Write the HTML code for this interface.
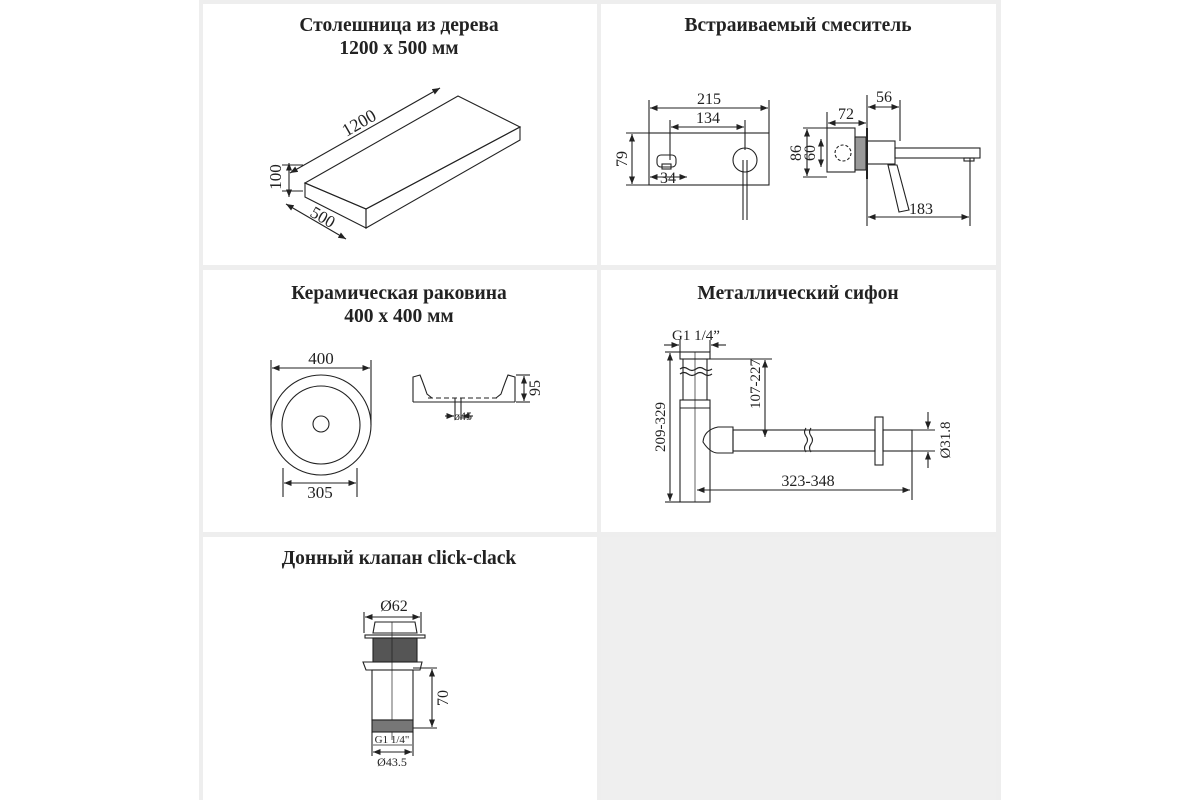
<!DOCTYPE html>
<html><head><meta charset="utf-8"><style>
html,body{margin:0;padding:0;background:#fff;}
svg{display:block;}
text{font-family:"Liberation Serif",serif;fill:#222;}
.t{font-weight:bold;font-size:19.5px;text-anchor:middle;}
.d{font-size:16px;text-anchor:middle;}
</style></head><body>
<svg width="1200" height="800" viewBox="0 0 1200 800" xmlns="http://www.w3.org/2000/svg">
<defs>
<marker id="a" viewBox="0 0 10 10" refX="10" refY="5" markerWidth="7" markerHeight="7" orient="auto-start-reverse"><path d="M0,1 L10,5 L0,9 z" fill="#222"/></marker>
</defs>
<rect x="199" y="0" width="802" height="800" fill="#eeeeee"/>
<rect x="203" y="4" width="394" height="261" fill="#fff"/>
<rect x="601" y="4" width="395" height="261" fill="#fff"/>
<rect x="203" y="270" width="394" height="262" fill="#fff"/>
<rect x="601" y="270" width="395" height="262" fill="#fff"/>
<rect x="203" y="537" width="394" height="263" fill="#fff"/>
<rect x="601" y="537" width="395" height="263" fill="#efefef"/>

<g stroke="#222" stroke-width="1.1" fill="none">
<!-- countertop -->
<polygon points="305,183 458,96 520,127 366,209"/>
<polygon points="305,183 366,209 366,228 305,197"/>
<polygon points="366,209 520,127 520,140 366,228"/>
<line x1="290" y1="173" x2="440" y2="88" marker-start="url(#a)" marker-end="url(#a)"/>
<line x1="289" y1="163" x2="289" y2="197" marker-start="url(#a)" marker-end="url(#a)"/>
<line x1="286" y1="204" x2="346" y2="239" marker-start="url(#a)" marker-end="url(#a)"/>
<line x1="282" y1="165" x2="303" y2="165"/>
<line x1="282" y1="191" x2="303" y2="191"/>

<!-- mixer front -->
<rect x="649" y="133" width="120" height="52"/>
<line x1="649" y1="100" x2="649" y2="133"/><line x1="769" y1="100" x2="769" y2="133"/>
<line x1="650" y1="108" x2="768" y2="108" marker-start="url(#a)" marker-end="url(#a)"/>
<line x1="670" y1="120" x2="670" y2="160"/><line x1="745" y1="120" x2="745" y2="150"/>
<line x1="671" y1="127" x2="744" y2="127" marker-start="url(#a)" marker-end="url(#a)"/>
<line x1="626" y1="133" x2="649" y2="133"/><line x1="626" y1="185" x2="649" y2="185"/>
<line x1="632" y1="134" x2="632" y2="184" marker-start="url(#a)" marker-end="url(#a)"/>
<circle cx="745" cy="160" r="12"/>
<line x1="743" y1="160" x2="743" y2="220"/><line x1="747" y1="160" x2="747" y2="220"/>
<rect x="657" y="155" width="19" height="12" rx="4"/>
<rect x="662" y="164" width="9" height="5"/>
<line x1="650" y1="177" x2="687" y2="177" marker-start="url(#a)" marker-end="url(#a)"/>
<!-- mixer side -->
<rect x="827" y="128" width="28" height="44"/>
<rect x="855" y="137" width="11" height="33" fill="#999"/>
<line x1="867" y1="128" x2="867" y2="179" stroke-width="2"/>
<circle cx="843" cy="153" r="8" stroke-dasharray="3,2"/>
<rect x="867" y="141" width="28" height="23"/>
<rect x="895" y="148" width="85" height="10"/>
<rect x="964" y="158" width="10" height="3"/>
<polygon points="888,165 897,165 909,210 899,212"/>
<line x1="827" y1="112" x2="827" y2="128"/><line x1="867" y1="95" x2="867" y2="226"/><line x1="900" y1="100" x2="900" y2="141"/><line x1="970" y1="158" x2="970" y2="226"/>
<line x1="828" y1="123" x2="866" y2="123" marker-start="url(#a)" marker-end="url(#a)"/>
<line x1="868" y1="107" x2="899" y2="107" marker-start="url(#a)" marker-end="url(#a)"/>
<line x1="868" y1="217" x2="969" y2="217" marker-start="url(#a)" marker-end="url(#a)"/>
<line x1="803" y1="128" x2="827" y2="128"/><line x1="803" y1="177" x2="827" y2="177"/>
<line x1="807" y1="129" x2="807" y2="176" marker-start="url(#a)" marker-end="url(#a)"/>
<line x1="821" y1="139" x2="821" y2="167" marker-start="url(#a)" marker-end="url(#a)"/>

<!-- sink top -->
<circle cx="321" cy="425" r="50"/>
<circle cx="321" cy="425" r="39"/>
<circle cx="321" cy="424" r="8"/>
<line x1="271" y1="360" x2="271" y2="425"/><line x1="371" y1="360" x2="371" y2="425"/>
<line x1="272" y1="368" x2="370" y2="368" marker-start="url(#a)" marker-end="url(#a)"/>
<line x1="283" y1="468" x2="283" y2="497"/><line x1="357" y1="468" x2="357" y2="497"/>
<line x1="284" y1="483" x2="356" y2="483" marker-start="url(#a)" marker-end="url(#a)"/>
<!-- sink side -->
<path d="M413,402 L413,377 L420,375 Q424,385 427,394 L432,398"/>
<path d="M515,402 L515,377 L508,375 Q504,385 501,394 L496,398"/>
<line x1="413" y1="402" x2="515" y2="402"/>
<line x1="428" y1="398" x2="500" y2="398" stroke-dasharray="5,3"/>
<line x1="455" y1="398" x2="455" y2="420"/><line x1="461" y1="398" x2="461" y2="420"/>
<line x1="445" y1="416" x2="454" y2="416" marker-end="url(#a)"/><line x1="473" y1="416" x2="462" y2="416" marker-end="url(#a)"/>
<line x1="516" y1="375" x2="530" y2="375"/><line x1="516" y1="402" x2="530" y2="402"/>
<line x1="524" y1="376" x2="524" y2="401" marker-start="url(#a)" marker-end="url(#a)"/>

<!-- siphon -->
<rect x="680" y="352" width="30" height="7"/>
<line x1="683" y1="359" x2="683" y2="400"/><line x1="707" y1="359" x2="707" y2="400"/>
<path d="M680,369 q4,-3 8,0 t8,0 t8,0 t8,0" />
<path d="M680,374 q4,-3 8,0 t8,0 t8,0 t8,0" />
<rect x="680" y="400" width="30" height="102"/>
<line x1="680" y1="408" x2="710" y2="408"/>
<line x1="695" y1="352" x2="695" y2="502" stroke-width="0.7"/>
<path d="M733,427 L718,427 Q704,430 703,442 Q710,453 718,453 L733,453 Z"/>
<rect x="733" y="430" width="142" height="21"/>
<rect x="883" y="430" width="29" height="21"/>
<rect x="875" y="417" width="8" height="48"/>
<path d="M806,428 q-3,4 0,8 t0,8 t0,8 M811,428 q-3,4 0,8 t0,8 t0,8" />
<line x1="665" y1="352" x2="680" y2="352"/><line x1="665" y1="502" x2="680" y2="502"/>
<line x1="670" y1="353" x2="670" y2="501" marker-start="url(#a)" marker-end="url(#a)"/>
<line x1="664" y1="345" x2="679" y2="345" marker-end="url(#a)"/><line x1="726" y1="345" x2="711" y2="345" marker-end="url(#a)"/>
<line x1="680" y1="340" x2="680" y2="352"/><line x1="710" y1="340" x2="710" y2="352"/>
<line x1="710" y1="359" x2="772" y2="359"/>
<line x1="765" y1="360" x2="765" y2="437" marker-start="url(#a)" marker-end="url(#a)"/>
<line x1="912" y1="430" x2="935" y2="430"/><line x1="912" y1="451" x2="935" y2="451"/>
<line x1="928" y1="412" x2="928" y2="429" marker-end="url(#a)"/><line x1="928" y1="468" x2="928" y2="452" marker-end="url(#a)"/>
<line x1="912" y1="451" x2="912" y2="500"/>
<line x1="697" y1="490" x2="910" y2="490" marker-start="url(#a)" marker-end="url(#a)"/>

<!-- click-clack -->
<line x1="364" y1="612" x2="364" y2="633"/><line x1="421" y1="612" x2="421" y2="633"/>
<line x1="365" y1="617" x2="420" y2="617" marker-start="url(#a)" marker-end="url(#a)"/>
<path d="M373,633 L375,622 L415,622 L417,633 Z"/>
<line x1="373" y1="633" x2="417" y2="633"/>
<rect x="365" y="635" width="60" height="3"/>
<rect x="373" y="638" width="44" height="24" fill="#555"/>
<path d="M363,662 L422,662 L420,670 L366,670 Z"/>
<rect x="372" y="670" width="41" height="50"/>
<line x1="392" y1="622" x2="392" y2="740" stroke-width="0.7"/>
<rect x="372" y="720" width="41" height="12" fill="#777"/>
<line x1="413" y1="668" x2="437" y2="668"/><line x1="413" y1="728" x2="437" y2="728"/>
<line x1="432" y1="669" x2="432" y2="727" marker-start="url(#a)" marker-end="url(#a)"/>
<line x1="372" y1="732" x2="372" y2="756"/><line x1="413" y1="732" x2="413" y2="756"/>
<line x1="373" y1="752" x2="412" y2="752" marker-start="url(#a)" marker-end="url(#a)"/>
<line x1="373" y1="745" x2="412" y2="745" stroke-width="0.7"/>
</g>

<text class="t" x="399" y="31">Столешница из дерева</text>
<text class="t" x="399" y="54">1200 x 500 мм</text>
<text class="t" x="798" y="31">Встраиваемый смеситель</text>
<text class="t" x="399" y="299">Керамическая раковина</text>
<text class="t" x="399" y="322">400 x 400 мм</text>
<text class="t" x="798" y="299">Металлический сифон</text>
<text class="t" x="399" y="564">Донный клапан click-clack</text>

<text class="d" style="font-size:18px" transform="translate(362,128) rotate(-30)">1200</text>
<text class="d" style="font-size:17px" transform="translate(281,177) rotate(-90)">100</text>
<text class="d" style="font-size:17px" transform="translate(320,222) rotate(30)">500</text>
<text class="d" x="709" y="104">215</text>
<text class="d" x="708" y="123">134</text>
<text class="d" transform="translate(627,159) rotate(-90)">79</text>
<text class="d" x="668" y="183">34</text>
<text class="d" x="846" y="119">72</text>
<text class="d" x="884" y="102">56</text>
<text class="d" x="921" y="214">183</text>
<text class="d" transform="translate(801,153) rotate(-90)">86</text>
<text class="d" transform="translate(815,153) rotate(-90)">60</text>
<text class="d" style="font-size:17px" x="321" y="364">400</text>
<text class="d" style="font-size:17px" x="320" y="498">305</text>
<text class="d" style="font-size:12px" x="463" y="420">ø45</text>
<text class="d" transform="translate(540,388) rotate(-90)">95</text>
<text class="d" style="font-size:15px" x="696" y="340">G1 1/4”</text>
<text class="d" style="font-size:15px" transform="translate(665,427) rotate(-90)">209-329</text>
<text class="d" style="font-size:15px" transform="translate(760,384) rotate(-90)">107-227</text>
<text class="d" style="font-size:16px" x="808" y="486">323-348</text>
<text class="d" style="font-size:15px" transform="translate(950,440) rotate(-90)">Ø31.8</text>
<text class="d" x="394" y="611">Ø62</text>
<text class="d" transform="translate(448,698) rotate(-90)">70</text>
<text class="d" style="font-size:11px" x="392" y="743">G1 1/4"</text>
<text class="d" style="font-size:12px" x="392" y="766">Ø43.5</text>
</svg>
</body></html>
